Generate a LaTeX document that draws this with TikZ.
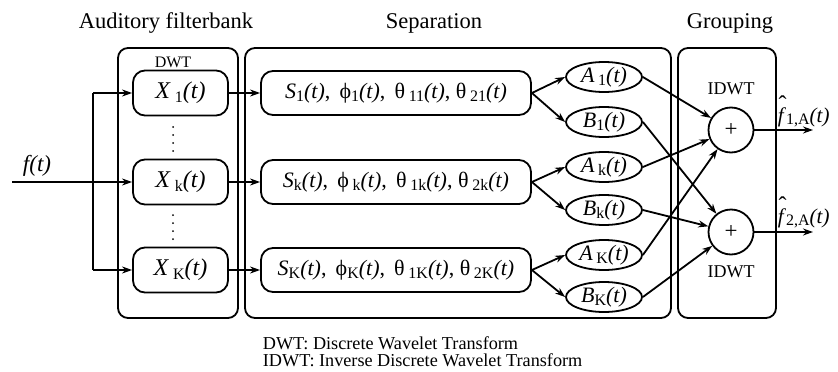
\documentclass[tikz,border=0pt]{standalone}
\usepackage{fontspec}
\setmainfont{Liberation Serif}
\usetikzlibrary{arrows.meta,shapes.geometric}
\newcommand{\lo}[1]{\raisebox{-0.3ex}{\fontsize{16}{16}\selectfont #1}}
\newcommand{\iv}[1]{\textit{#1}}
\newcommand{\fhat}{\makebox[0pt][l]{\raisebox{0.45em}{\kern0.04em\fontsize{24}{24}\selectfont\char"02C6}}\textit{f}}
\begin{document}
\begin{tikzpicture}[x=1pt,y=-1pt,
  line width=1.8pt,
  panel/.style={draw, rounded corners=10pt, inner sep=0pt},
  xbox/.style={draw, rounded corners=12pt, minimum width=95pt, minimum height=45pt, font=\fontsize{24}{24}\selectfont, inner sep=0pt},
  sbox/.style={draw, rounded corners=12pt, minimum width=270pt, minimum height=44pt, font=\fontsize{22}{22}\selectfont, inner sep=0pt},
  ell/.style={draw, ellipse, minimum width=76pt, minimum height=30pt, inner sep=0pt, font=\fontsize{22}{22}\selectfont},
  sumnode/.style={draw, circle, minimum size=45pt, inner sep=0pt, font=\fontsize{23}{23}\selectfont},
  arr/.style={-{Stealth[length=10pt,width=7pt]}},
  title/.style={font=\fontsize{22.5}{22.5}\selectfont},
  lbl/.style={font=\fontsize{18}{18}\selectfont},
  foot/.style={font=\fontsize{18.2}{18.2}\selectfont, anchor=west, inner sep=0pt},
  outlbl/.style={font=\fontsize{21}{21}\selectfont, anchor=base west, inner sep=0pt},
]
\useasboundingbox (0,0) rectangle (838,372);

% panels
\node[panel, minimum width=120pt, minimum height=270pt] (fb) at (178,183) {};
\node[panel, minimum width=426pt, minimum height=270pt] (sep) at (458,183) {};
\node[panel, minimum width=98pt, minimum height=270pt] (grp) at (727,183) {};

% titles
\node[title] (t1) at (166,23) {Auditory filterbank};
\node[title] (t2) at (434,23) {Separation};
\node[title] (t3) at (730,23) {Grouping};

% filterbank
\node[font=\fontsize{16}{16}\selectfont] (dwt) at (173,62) {DWT};
\node[xbox] (X1) at (180.5,93) {\iv{X}\,\lo{1}\iv{(t)}};
\node[xbox] (Xk) at (180.5,182) {\iv{X}\,\lo{k}\iv{(t)}};
\node[xbox] (XK) at (180.5,270) {\iv{X}\,\lo{K}\iv{(t)}};
\foreach \yy in {127,135,143,151,215,223,231,239}
  \fill (173,\yy) circle (1pt);

% input
\coordinate (in) at (12,182);
\coordinate (brt) at (93,93);
\coordinate (brb) at (93,270);
\node[font=\fontsize{23}{23}\selectfont] (ft) at (37,166) {\iv{f(t)}};
\draw[arr] (in) -- (Xk.west);
\draw (brt) -- (brb);
\draw[arr] (brt) -- (X1.west);
\draw[arr] (brb) -- (XK.west);

% separation boxes
\node[sbox] (S1) at (396,93) {\iv{S}\lo{1}\iv{(t)}, \,ϕ\lo{1}\iv{(t)}, \,θ\,\lo{11}\iv{(t)}, θ\,\lo{21}\iv{(t)}};
\node[sbox] (Sk) at (396,182) {\iv{S}\lo{k}\iv{(t)}, \,ϕ\,\lo{k}\iv{(t)}, \,θ\,\lo{1k}\iv{(t)}, θ\,\lo{2k}\iv{(t)}};
\node[sbox] (SK) at (396,270) {\iv{S}\lo{K}\iv{(t)}, \,ϕ\lo{K}\iv{(t)}, \,θ\,\lo{1K}\iv{(t)}, θ\,\lo{2K}\iv{(t)}};
\draw[arr] (X1.east) -- (S1.west);
\draw[arr] (Xk.east) -- (Sk.west);
\draw[arr] (XK.east) -- (SK.west);

% ellipses
\node[ell] (A1) at (604,77) {\iv{A}\,\lo{1}\iv{(t)}};
\node[ell] (B1) at (604,122) {\iv{B}\lo{1}\iv{(t)}};
\node[ell] (Ak) at (604,167) {\iv{A}\,\lo{k}\iv{(t)}};
\node[ell] (Bk) at (604,210) {\iv{B}\lo{k}\iv{(t)}};
\node[ell] (AK) at (604,255) {\iv{A}\,\lo{K}\iv{(t)}};
\node[ell] (BK) at (604,297) {\iv{B}\lo{K}\iv{(t)}};
\draw[arr] (S1.east) -- (A1.west);
\draw[arr] (S1.east) -- (B1.west);
\draw[arr] (Sk.east) -- (Ak.west);
\draw[arr] (Sk.east) -- (Bk.west);
\draw[arr] (SK.east) -- (AK.west);
\draw[arr] (SK.east) -- (BK.west);

% grouping
\node[sumnode] (P1) at (731,130) {+};
\node[sumnode] (P2) at (731,232) {+};
\node[lbl] (idwt1) at (731,89) {IDWT};
\node[lbl] (idwt2) at (731,272) {IDWT};
\draw[arr] (A1.east) -- (P1);
\draw[arr] (Ak.east) -- (P1);
\draw[arr] (AK.east) -- (P1);
\draw[arr] (B1.east) -- (P2);
\draw[arr] (Bk.east) -- (P2);
\draw[arr] (BK.east) -- (P2);
\coordinate (o1) at (813,130);
\coordinate (o2) at (813,232);
\draw[arr] (P1.east) -- (o1);
\draw[arr] (P2.east) -- (o2);
\node[outlbl] (f1) at (777,122) {\fhat\lo{1,A}\iv{(t)}};
\node[outlbl] (f2) at (777,223) {\fhat\lo{2,A}\iv{(t)}};

% footer
\node[foot] (n1) at (262,343) {DWT: Discrete Wavelet Transform};
\node[foot] (n2) at (262,360) {IDWT: Inverse Discrete Wavelet Transform};
\end{tikzpicture}
\end{document}
